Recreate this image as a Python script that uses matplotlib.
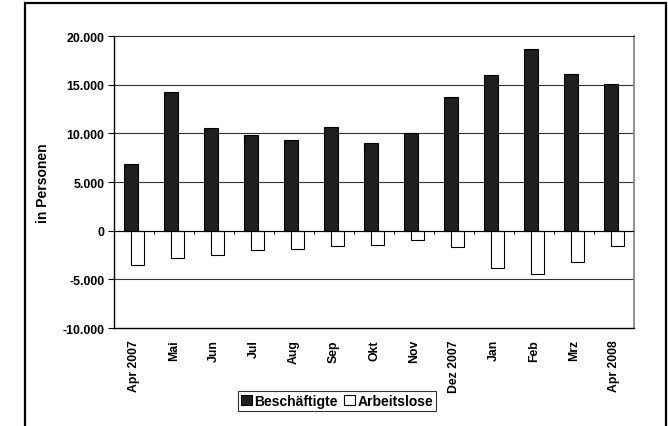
import matplotlib.pyplot as plt
from matplotlib.patches import Rectangle
import numpy as np

months = ['Apr 2007', 'Mai', 'Jun', 'Jul', 'Aug', 'Sep', 'Okt', 'Nov',
          'Dez 2007', 'Jan', 'Feb', 'Mrz', 'Apr 2008']
beschaeftigte = [6800, 14200, 10600, 9800, 9300, 10700, 9000, 10000,
                 13700, 16000, 18700, 16100, 15100]
arbeitslose = [-3500, -2800, -2500, -2000, -1900, -1600, -1500, -1000,
               -1700, -3800, -4400, -3200, -1600]
y_ticks = [-10000, -5000, 0, 5000, 10000, 15000, 20000]
y_labels = ['-10.000', '-5.000', '0', '5.000', '10.000', '15.000', '20.000']

plt.rcParams['font.family'] = ['Liberation Sans', 'DejaVu Sans']
plt.rcParams['font.weight'] = 'bold'


def main():
    fig = plt.figure(figsize=(6.68, 4.27), dpi=100)
    ax = fig.add_axes([0.1707, 0.2295, 0.7784, 0.6838])

    x = np.arange(len(months))
    width = 0.34
    ax.bar(x - 0.08, beschaeftigte, width, color='#1f1f1f', edgecolor='black',
           linewidth=0.8, label='Beschäftigte', zorder=3)
    ax.bar(x + 0.085, arbeitslose, width, color='white', edgecolor='black',
           linewidth=0.8, label='Arbeitslose', zorder=3)

    ax.set_xlim(-0.5, len(months) - 0.5)
    ax.set_ylim(-10000, 20000)
    ax.set_yticks(y_ticks)
    ax.set_yticklabels(y_labels, fontsize=8.9, fontweight='bold')
    ax.tick_params(axis='y', length=4, width=0.8, pad=3)
    for y in y_ticks[1:-1]:
        ax.axhline(y, color='#333333', linewidth=0.8, zorder=1)

    # category axis sits at zero, ticks between categories
    ax.axhline(0, color='black', linewidth=0.8, zorder=4)
    ax.vlines(np.arange(0.5, len(months) - 1, 1.0), -350, 0, color='black',
              linewidth=0.8, zorder=4)

    ax.set_xticks(x)
    ax.set_xticklabels(months, rotation=90, fontsize=8.8, fontweight='bold')
    ax.tick_params(axis='x', length=0, pad=8)

    ax.spines['top'].set_color('#333333')
    ax.spines['right'].set_color('#808080')
    ax.spines['right'].set_linewidth(1.2)
    ax.spines['left'].set_linewidth(1.0)
    ax.spines['bottom'].set_linewidth(1.0)

    ax.set_ylabel('in Personen', fontsize=10, fontweight='bold', labelpad=9)

    leg = ax.legend(loc='center', bbox_to_anchor=(0.5045, 0.059),
                    bbox_transform=fig.transFigure, ncol=2, fontsize=10,
                    frameon=True, fancybox=False, edgecolor='black',
                    handlelength=0.8, handleheight=0.8, handletextpad=0.2,
                    columnspacing=0.4, borderpad=0.2, borderaxespad=0)
    leg.get_frame().set_linewidth(0.8)
    for t in leg.get_texts():
        t.set_fontweight('bold')

    # outer chart border, runs past the bottom edge
    fig.patches.append(Rectangle((25 / 668, -0.1), 641 / 668, 1.1 - 4 / 427,
                                 transform=fig.transFigure, fill=False,
                                 edgecolor='black', linewidth=1.6))

    fig.savefig('out.png', dpi=100)


if __name__ == '__main__':
    main()
